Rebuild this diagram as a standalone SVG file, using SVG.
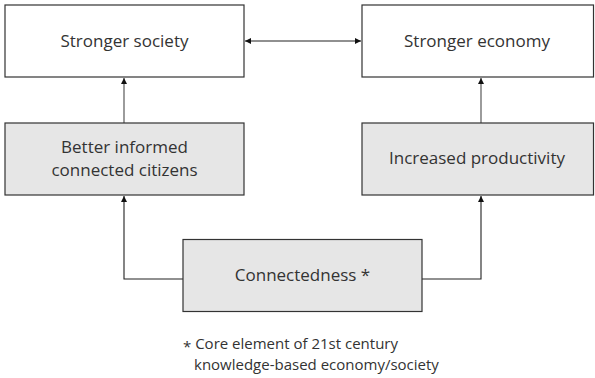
<svg xmlns="http://www.w3.org/2000/svg" width="595" height="378" viewBox="0 0 595 378">
  <style>
    .box { fill: #ffffff; stroke: #333333; stroke-width: 1.2; }
    .box.shaded { fill: #e6e6e6; }
    .label { font-family: "Open Sans", "Noto Sans", sans-serif; font-size: 17px; fill: #333333; text-anchor: middle; }
    .note { font-family: "Open Sans", "Noto Sans", sans-serif; font-size: 15px; fill: #333333; }
    .link { fill: none; stroke: #222222; stroke-width: 1.1; }
    .link.up { stroke: #666666; stroke-width: 1.3; }
  </style>
  <defs>
    <marker id="head" viewBox="0 0 10 10" refX="10" refY="5" markerWidth="6" markerHeight="6" markerUnits="userSpaceOnUse" orient="auto-start-reverse">
      <path d="M0,0 L10,5 L0,10 Z" fill="#111111"/>
    </marker>
  </defs>

  <g id="connectors">
    <line class="link" x1="245" y1="41" x2="361" y2="41" marker-start="url(#head)" marker-end="url(#head)"/>
    <line class="link up" x1="124" y1="123" x2="124" y2="78" marker-end="url(#head)"/>
    <line class="link up" x1="481" y1="123" x2="481" y2="78" marker-end="url(#head)"/>
    <polyline class="link" points="183,279 124,279 124,196" marker-end="url(#head)"/>
    <polyline class="link" points="422,279 481,279 481,196" marker-end="url(#head)"/>
  </g>

  <g id="stronger-society">
    <rect class="box" x="5" y="5" width="239" height="72"/>
    <text class="label" x="124.5" y="47">Stronger society</text>
  </g>

  <g id="stronger-economy">
    <rect class="box" x="362" y="5" width="231.5" height="72"/>
    <text class="label" x="477" y="47">Stronger economy</text>
  </g>

  <g id="better-informed">
    <rect class="box shaded" x="5" y="123" width="239" height="72"/>
    <text class="label" x="124.5" y="153">Better informed</text>
    <text class="label" x="124.5" y="176">connected citizens</text>
  </g>

  <g id="increased-productivity">
    <rect class="box shaded" x="362" y="123" width="231.5" height="72"/>
    <text class="label" x="477" y="164">Increased productivity</text>
  </g>

  <g id="connectedness">
    <rect class="box shaded" x="183" y="239.5" width="239" height="72"/>
    <text class="label" x="302.5" y="281">Connectedness *</text>
  </g>

  <g id="footnote">
    <text class="note" x="183" y="349"><tspan dy="3">*</tspan><tspan dy="-3"> Core element of 21st century</tspan></text>
    <text class="note" x="194" y="370">knowledge-based economy/society</text>
  </g>
</svg>
